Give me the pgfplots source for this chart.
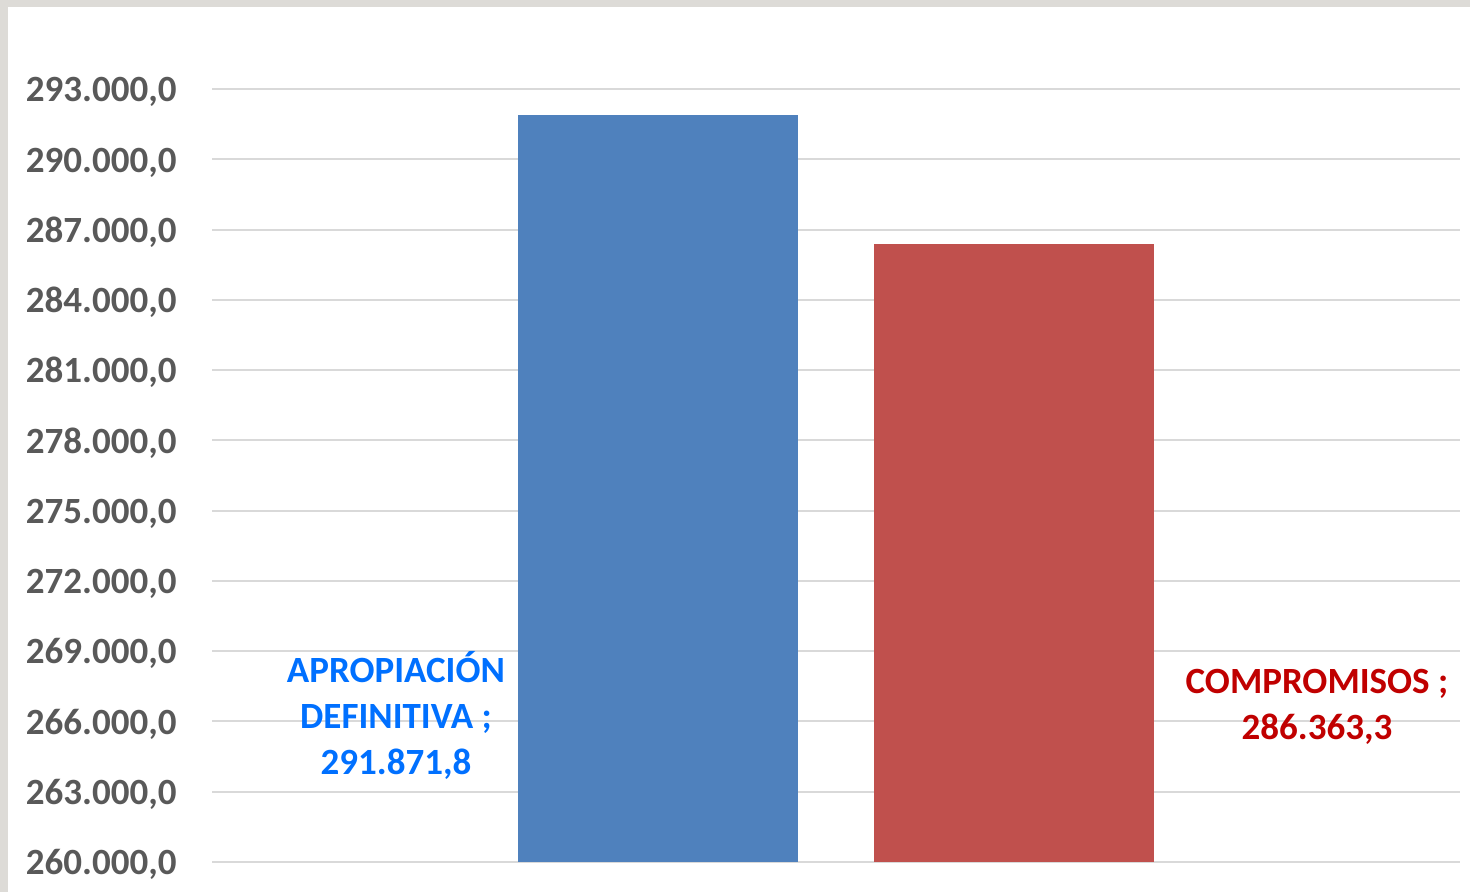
\documentclass[border=0pt]{standalone}
\usepackage{fontspec}
\setmainfont{Carlito}
\usepackage{pgfplots}
\pgfplotsset{compat=1.18}
\definecolor{barblue}{RGB}{79,129,189}
\definecolor{barred}{RGB}{192,80,77}
\definecolor{lblblue}{RGB}{0,112,255}
\definecolor{lblred}{RGB}{192,0,0}
\definecolor{tickgray}{RGB}{89,89,89}
\definecolor{gridgray}{RGB}{217,217,217}
\definecolor{framegray}{RGB}{221,219,215}

\begin{document}
\begin{tikzpicture}[x=1pt,y=1pt]
\fill[white] (0,0) rectangle (735,446);
\fill[framegray] (0,442.5) rectangle (735,446);
\fill[framegray] (0,0) rectangle (4,446);
\useasboundingbox (0,0) rectangle (735,446);
\begin{axis}[
  at={(106pt,15pt)}, anchor=south west,
  scale only axis, width=624pt, height=386.5pt,
  xmin=0, xmax=1, ymin=260000, ymax=293000,
  ytick={260000,263000,266000,269000,272000,275000,278000,281000,284000,287000,290000,293000},
  xtick=\empty,
  ymajorgrids, grid style={gridgray, line width=1pt},
  axis line style={draw=none},
  major tick length=0pt,
  ybar, bar shift=0pt, bar width=0.2244,
  scaled y ticks=false,
  yticklabel shift=17.5pt,
  yticklabel style={anchor=base east, inner sep=0pt, yshift=-6.4pt,
    font=\fontsize{18.5}{22}\selectfont\bfseries, text=tickgray,
    /pgf/number format/.cd, fixed, fixed zerofill, precision=1,
    use comma, 1000 sep={.}, assume math mode=true},
]
\addplot[fill=barblue, draw=none] coordinates {(0.3574,291871.8)};
\addplot[fill=barred, draw=none] coordinates {(0.6426,286363.3)};
\node[align=center, text=lblblue, font=\fontsize{18.5}{23}\selectfont\bfseries]
  at (axis cs:0.1474,266254) {APROPIACIÓN\\DEFINITIVA ;\\291.871,8};
\node[align=center, text=lblred, font=\fontsize{18.5}{23}\selectfont\bfseries]
  at (axis cs:0.8854,266617) {COMPROMISOS ;\\286.363,3};
\end{axis}
\end{tikzpicture}
\end{document}
